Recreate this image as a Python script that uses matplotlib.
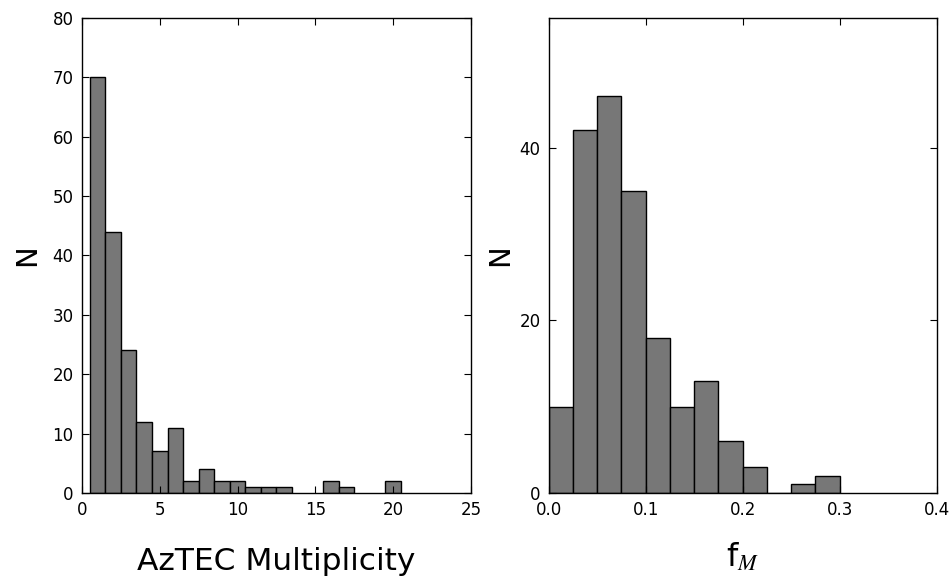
import numpy as np
import matplotlib
matplotlib.use("Agg")
import matplotlib.pyplot as plt

# ---------------- DATA ----------------
# AzTEC multiplicity histogram (bins centred on integers)
mult_values = [1, 2, 3, 4, 5, 6, 7, 8, 9, 10, 11, 12, 13, 16, 17, 20]
mult_counts = [70, 44, 24, 12, 7, 11, 2, 4, 2, 2, 1, 1, 1, 2, 1, 2]

# f_M histogram (left bin edges, width 0.025)
fm_edges = [0.0, 0.025, 0.05, 0.075, 0.1, 0.125, 0.15, 0.175, 0.2, 0.225, 0.25, 0.275]
fm_counts = [10, 42, 46, 35, 18, 10, 13, 6, 3, 0, 1, 2]

bar_color = "#777777"

# ---------------- STYLE ----------------
plt.rcParams["mathtext.fontset"] = "stix"
plt.rcParams["xtick.direction"] = "in"
plt.rcParams["ytick.direction"] = "in"
plt.rcParams["xtick.top"] = True
plt.rcParams["ytick.right"] = True
plt.rcParams["xtick.major.size"] = 5
plt.rcParams["ytick.major.size"] = 5
plt.rcParams["xtick.major.pad"] = 6
plt.rcParams["ytick.major.pad"] = 6
plt.rcParams["xtick.labelsize"] = 12
plt.rcParams["ytick.labelsize"] = 12

fig = plt.figure(figsize=(9.51, 5.82), dpi=100)
ax1 = fig.add_axes([0.0862, 0.153, 0.409, 0.816])
ax2 = fig.add_axes([0.577, 0.153, 0.408, 0.816])

# ---------------- LEFT PANEL ----------------
ax1.bar(mult_values, mult_counts, width=1.0, align="center",
        color=bar_color, edgecolor="black", linewidth=1.0)
ax1.set_xlim(0, 25)
ax1.set_ylim(0, 80)
ax1.set_xticks([0, 5, 10, 15, 20, 25])
ax1.set_yticks(np.arange(0, 81, 10))
ax1.set_xlabel("AzTEC Multiplicity", fontsize=22.5, labelpad=20)
ax1.set_ylabel("N", fontsize=21, labelpad=8)

# ---------------- RIGHT PANEL ----------------
ax2.bar(fm_edges, fm_counts, width=0.025, align="edge",
        color=bar_color, edgecolor="black", linewidth=1.0)
ax2.set_xlim(0, 0.4)
ax2.set_ylim(0, 55)
ax2.set_xticks([0.0, 0.1, 0.2, 0.3, 0.4])
ax2.set_xticklabels(["0.0", "0.1", "0.2", "0.3", "0.4"])
ax2.set_yticks([0, 20, 40])
ax2.set_xlabel("f$_{M}$", fontsize=23, labelpad=16)
ax2.set_ylabel("N", fontsize=21, labelpad=4)

for ax in (ax1, ax2):
    for sp in ax.spines.values():
        sp.set_linewidth(1.0)

plt.savefig("out.png", dpi=100)
